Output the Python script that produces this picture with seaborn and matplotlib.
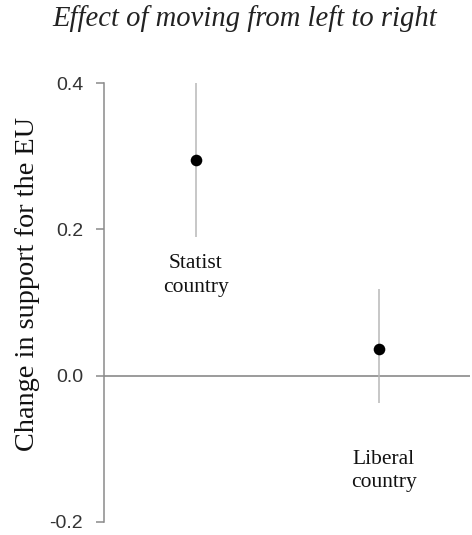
import matplotlib
matplotlib.use("Agg")
import matplotlib.pyplot as plt
import seaborn as sns
import pandas as pd

# ---- data ----
categories = ["Statist\ncountry", "Liberal\ncountry"]
estimates = [0.295, 0.036]
ci_low = [0.19, -0.038]
ci_high = [0.40, 0.119]
label_y = [0.137, -0.13]
yticks = [-0.2, 0.0, 0.2, 0.4]
ytick_labels = ["-0.2", "0.0", "0.2", "0.4"]
title = "Effect of moving from left to right"
ylabel = "Change in support for the EU"

sns.set_theme(style="white")
plt.rcParams['font.family'] = ['Liberation Serif', 'DejaVu Serif']

fig = plt.figure(figsize=(4.72, 5.35), dpi=100)
ax = fig.add_axes([104 / 472, 13 / 535, 366 / 472, 439 / 535])

df = pd.DataFrame({"cat": categories, "est": estimates, "lo": ci_low, "hi": ci_high})
df["pos"] = range(len(df))

ax.axhline(0, color="#8a8a8a", lw=1.2, zorder=1)
ax.vlines(x=df["pos"], ymin=df["lo"], ymax=df["hi"], color="#b8b8b8", lw=1.1, zorder=2)
sns.scatterplot(data=df, x="pos", y="est", ax=ax, color="black", s=70,
                edgecolor="black", linewidth=0, zorder=3, legend=False)

label_dx = [0.0, 0.03]
for i, row in df.iterrows():
    ax.text(row["pos"] + label_dx[i], label_y[i], row["cat"], ha="center", va="center",
            fontsize=15.5, color="#111111", linespacing=1.3)

ax.set_xlim(-0.5, 1.5)
ax.set_ylim(-0.2, 0.4)
ax.set_xticks([])
ax.set_yticks(yticks)
ax.set_yticklabels(ytick_labels, family=['Liberation Sans', 'DejaVu Sans'],
                   fontsize=14, color="#333333")
ax.tick_params(axis="y", left=True, length=6, width=1.1, color="#8a8a8a", pad=9)
ax.set_xlabel("")
ax.set_ylabel(ylabel, fontsize=20.3, color="#111111")
ax.yaxis.set_label_coords(-0.175, 0.542)

for s in ["top", "right", "bottom"]:
    ax.spines[s].set_visible(False)
ax.spines["left"].set_color("#8a8a8a")
ax.spines["left"].set_linewidth(1.1)

fig.text(245 / 472, 1 - 19 / 535, title, ha="center", va="center",
         fontsize=20.6, style="italic", color="#222222")

fig.savefig("out.png", dpi=100, facecolor="white")
